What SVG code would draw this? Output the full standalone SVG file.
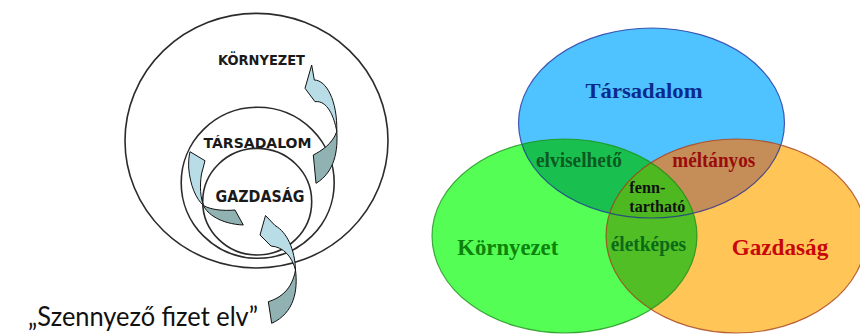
<svg xmlns="http://www.w3.org/2000/svg" width="860" height="335" viewBox="0 0 860 335">
  <style>
    .ring { fill: none; stroke: #2b2b2b; stroke-width: 1.6; }
    .caps { font-family: "DejaVu Sans", "Liberation Sans", sans-serif; font-weight: bold; fill: #1a1a1a; }
    .arrow-front { fill: #b8dde6; stroke: #111; stroke-width: 1; stroke-linejoin: round; }
    .arrow-back { fill: #91b2b2; stroke: #111; stroke-width: 1; stroke-linejoin: round; }
    .venn { font-family: "Liberation Serif", "Times New Roman", serif; font-weight: bold; }
    .edge { fill: none; stroke-width: 1.2; stroke-opacity: 0.75; }
  </style>
  <defs>
    <ellipse id="eT" cx="651.5" cy="123" rx="133" ry="95"/>
    <ellipse id="eK" cx="564.5" cy="236" rx="132.5" ry="97"/>
    <ellipse id="eG" cx="736" cy="236" rx="130" ry="97"/>
    <clipPath id="clipT"><use href="#eT"/></clipPath>
    <clipPath id="clipK"><use href="#eK"/></clipPath>
  </defs>

  <rect width="860" height="335" fill="#ffffff"/>

  <!-- nested circles: environment > society > economy -->
  <g id="kornyezet-kor">
    <ellipse class="ring" cx="256.5" cy="140.7" rx="131.5" ry="127.3"/>
    <text class="caps" x="261.5" y="65" font-size="13.5" text-anchor="middle" textLength="87" lengthAdjust="spacingAndGlyphs">KÖRNYEZET</text>
  </g>
  <g id="tarsadalom-kor">
    <ellipse class="ring" cx="257.7" cy="182.8" rx="76.5" ry="75.5"/>
    <text class="caps" x="257.5" y="147.5" font-size="13.5" text-anchor="middle" textLength="108" lengthAdjust="spacingAndGlyphs">TÁRSADALOM</text>
  </g>
  <g id="gazdasag-kor">
    <ellipse class="ring" cx="257.2" cy="201.7" rx="54.5" ry="53.3"/>
    <text class="caps" x="260" y="201.5" font-size="15" text-anchor="middle" textLength="89" lengthAdjust="spacingAndGlyphs">GAZDASÁG</text>
  </g>

  <!-- curved ribbon arrows -->
  <g id="connectors">
    <g id="nyil-kornyezet">
      <path class="arrow-front" d="M311.7,65 L314.3,80 C326,80 337.5,100 336.8,131.5 C334,116 327,100 315,101.7 L305,88.3 Z"/>
      <path class="arrow-back" d="M336.8,131.5 C338,150 335,172 316,183.3 L313.3,155 C321,151 332.5,144 336.8,131.5 Z"/>
    </g>
    <g id="nyil-tarsadalom">
      <path class="arrow-front" d="M190,151.7 L205,160.7 L201.5,174 C199.5,186 200.5,198 203.5,205.5 C196,199 190,185 188.7,168 C188.4,161 189,156 190,151.7 Z"/>
      <path class="arrow-back" d="M203.5,205.5 C207,214 221,224 243.3,225 L235,210 C224,211 211,210 203.5,205.5 Z"/>
    </g>
    <g id="nyil-gazdasag">
      <path class="arrow-front" d="M265.5,215.5 L275,225.5 C287,232 295,250 295.5,270 C292,257 284,247 271,246 L260,235 Z"/>
      <path class="arrow-back" d="M295.5,270 C298,290 294.5,313 271.7,323.3 L268.3,301.7 C280,298 292,290 295.5,270 Z"/>
    </g>
  </g>

  <g id="szennyezo-fizet">
    <text x="28" y="326" font-family="Lato, 'Open Sans', sans-serif" font-size="26" fill="#111" textLength="230" lengthAdjust="spacingAndGlyphs">„Szennyező fizet elv”</text>
  </g>

  <!-- three-circle model of sustainability -->
  <g id="venn">
    <g id="tarsadalom">
      <use href="#eT" fill="#4ec3ff"/>
    </g>
    <g id="kornyezet">
      <use href="#eK" fill="#55fe55"/>
    </g>
    <g id="gazdasag">
      <use href="#eG" fill="#ffc657"/>
    </g>
    <g id="elviselheto">
      <use href="#eK" fill="#19c050" clip-path="url(#clipT)"/>
    </g>
    <g id="meltanyos">
      <use href="#eG" fill="#c58d57" clip-path="url(#clipT)"/>
    </g>
    <g id="eletkepes">
      <use href="#eG" fill="#50be24" clip-path="url(#clipK)"/>
    </g>
    <g id="fenntarthato">
      <g clip-path="url(#clipT)">
        <use href="#eG" fill="#4db820" clip-path="url(#clipK)"/>
      </g>
    </g>
    <g id="venn-edges">
      <use href="#eT" class="edge" stroke="#1d2a9a"/>
      <use href="#eK" class="edge" stroke="#1c8a1c"/>
      <use href="#eG" class="edge" stroke="#a03a1c"/>
    </g>
    <text class="venn" x="644" y="97.5" font-size="22" fill="#0b2b8c" text-anchor="middle" textLength="117" lengthAdjust="spacingAndGlyphs">Társadalom</text>
    <text class="venn" x="507.8" y="255" font-size="22.5" fill="#0c840c" text-anchor="middle" textLength="101" lengthAdjust="spacingAndGlyphs">Környezet</text>
    <text class="venn" x="780" y="255" font-size="23" fill="#c80808" text-anchor="middle" textLength="96.5" lengthAdjust="spacingAndGlyphs">Gazdaság</text>
    <text class="venn" x="579" y="166.5" font-size="20" fill="#0b5a20" text-anchor="middle" textLength="86" lengthAdjust="spacingAndGlyphs">elviselhető</text>
    <text class="venn" x="713.7" y="166.5" font-size="20" fill="#9a0c0c" text-anchor="middle" textLength="83" lengthAdjust="spacingAndGlyphs">méltányos</text>
    <text class="venn" x="629.3" y="192.7" font-size="16.5" fill="#111" textLength="36" lengthAdjust="spacingAndGlyphs">fenn-</text>
    <text class="venn" x="629.3" y="211.7" font-size="16.5" fill="#111" textLength="56" lengthAdjust="spacingAndGlyphs">tartható</text>
    <text class="venn" x="648.4" y="250.7" font-size="20" fill="#0b6a18" text-anchor="middle" textLength="75.3" lengthAdjust="spacingAndGlyphs">életképes</text>
  </g>
</svg>
